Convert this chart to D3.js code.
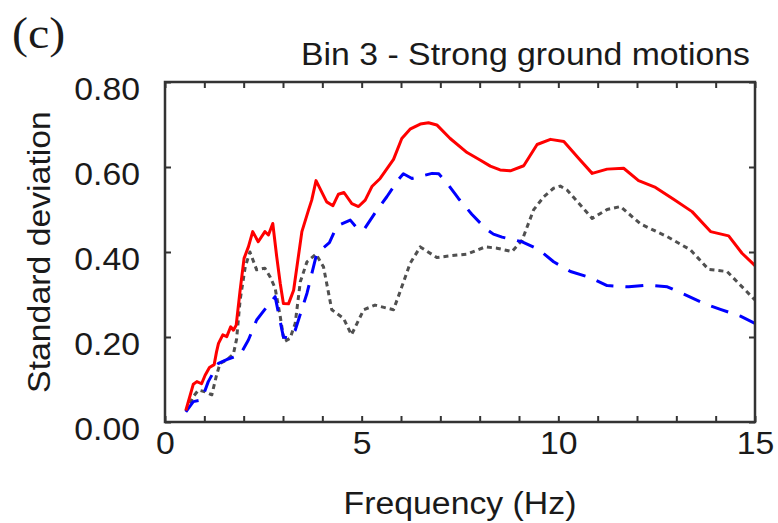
<!DOCTYPE html>
<html>
<head>
<meta charset="utf-8">
<script src="https://cdn.jsdelivr.net/npm/d3@7"></script>
<style>
  html, body { margin: 0; padding: 0; background: #fff; }
  svg { display: block; }
  text { font-family: "Liberation Sans", Arial, sans-serif; fill: #1a1a1a; }
</style>
</head>
<body>
<script>
// ---------------- data ----------------
const panelLabel = "(c)";
const titleText = "Bin 3 - Strong ground motions";
const xLabel = "Frequency (Hz)";
const yLabel = "Standard deviation";
const xTickLabels = [0, 5, 10, 15];
const yTickLabels = [0.0, 0.2, 0.4, 0.6, 0.8];

const freqRed = [0.53,0.72,0.81,0.93,1.02,1.13,1.25,1.31,1.36,1.47,1.57,1.67,1.74,1.81,1.91,2.01,2.12,2.23,2.37,2.54,2.63,2.74,2.84,2.93,3.01,3.14,3.27,3.48,3.65,3.73,3.84,4.11,4.27,4.41,4.55,4.75,4.92,5.09,5.26,5.47,5.81,6.02,6.23,6.49,6.70,6.91,7.25,7.68,8.02,8.27,8.52,8.78,9.12,9.46,9.80,10.14,10.52,10.86,11.24,11.66,12.04,12.47,12.93,13.40,13.87,14.33,14.67,15.0];
const sdRed   = [0.027,0.089,0.095,0.090,0.110,0.128,0.135,0.165,0.185,0.205,0.201,0.224,0.216,0.228,0.310,0.385,0.412,0.448,0.424,0.448,0.440,0.467,0.389,0.326,0.279,0.278,0.310,0.448,0.499,0.522,0.568,0.518,0.509,0.536,0.540,0.514,0.507,0.522,0.554,0.573,0.618,0.667,0.689,0.701,0.704,0.699,0.667,0.634,0.616,0.602,0.593,0.591,0.603,0.653,0.665,0.660,0.620,0.585,0.595,0.597,0.568,0.552,0.524,0.495,0.448,0.438,0.397,0.368];

const freqBlue = [0.53,0.72,0.93,1.10,1.36,1.57,1.91,2.12,2.33,2.59,2.80,3.01,3.18,3.31,3.61,3.86,4.18,4.37,4.71,4.92,5.06,5.34,5.64,5.94,6.06,6.28,6.79,6.96,7.17,7.46,7.80,8.14,8.35,8.57,9.08,9.50,9.88,10.31,10.81,11.24,11.79,12.26,12.77,13.19,13.70,14.12,14.63,15.0];
const sdBlue   = [0.024,0.048,0.052,0.095,0.138,0.147,0.158,0.193,0.240,0.271,0.295,0.200,0.197,0.216,0.303,0.397,0.422,0.461,0.475,0.452,0.453,0.492,0.530,0.571,0.584,0.573,0.585,0.584,0.562,0.526,0.489,0.456,0.442,0.435,0.424,0.406,0.377,0.354,0.340,0.321,0.318,0.322,0.318,0.301,0.279,0.265,0.249,0.232];

const freqGray = [0.53,0.72,0.85,1.02,1.19,1.31,1.40,1.57,1.74,1.82,1.91,2.04,2.16,2.33,2.54,2.67,2.80,2.93,3.03,3.18,3.31,3.44,3.61,3.84,4.03,4.24,4.54,4.74,5.05,5.34,5.81,6.02,6.23,6.49,6.91,7.25,7.68,8.14,8.44,8.82,9.08,9.37,9.63,9.88,10.05,10.22,10.86,11.24,11.58,12.09,12.77,13.36,13.82,14.29,15.0];
const sdGray   = [0.025,0.060,0.075,0.071,0.064,0.110,0.138,0.146,0.160,0.195,0.287,0.365,0.400,0.358,0.362,0.342,0.315,0.248,0.189,0.197,0.232,0.330,0.377,0.395,0.365,0.264,0.244,0.205,0.264,0.275,0.264,0.318,0.373,0.412,0.387,0.391,0.395,0.412,0.409,0.401,0.428,0.499,0.530,0.550,0.555,0.546,0.479,0.500,0.507,0.466,0.436,0.405,0.359,0.354,0.287];

const series = [
  { f: freqGray, v: sdGray, color: "#505050", dash: "5,4" },
  { f: freqBlue, v: sdBlue, color: "#0000ff", dash: "18,12" },
  { f: freqRed,  v: sdRed,  color: "#ff0000", dash: null }
];

// ---------------- layout ----------------
const W = 778, H = 523;
const m = { left: 165, right: 23, top: 82, bottom: 101 };
const iw = W - m.left - m.right, ih = H - m.top - m.bottom;
const STRETCH = 1.09;
const FS = 31;

const svg = d3.select("body").append("svg").attr("width", W).attr("height", H);
const g = svg.append("g").attr("transform", `translate(${m.left},${m.top})`);

const x = d3.scaleLinear().domain([0, 15]).range([0, iw]);
const y = d3.scaleLinear().domain([0, 0.8]).range([ih, 0]);

function stretch(sel) {
  sel.each(function () {
    const len = this.getComputedTextLength();
    d3.select(this).attr("textLength", len * STRETCH).attr("lengthAdjust", "spacingAndGlyphs");
  });
}

// clip
svg.append("defs").append("clipPath").attr("id", "clip")
  .append("rect").attr("width", iw).attr("height", ih);

// lines
const line = d3.line().x(d => x(d[0])).y(d => y(d[1]));
const lines = g.append("g").attr("clip-path", "url(#clip)");
series.forEach(s => {
  lines.append("path")
    .datum(s.f.map((f, i) => [f, s.v[i]]))
    .attr("d", line)
    .attr("fill", "none")
    .attr("stroke", s.color)
    .attr("stroke-width", 3)
    .attr("stroke-linejoin", "round")
    .attr("stroke-dasharray", s.dash);
});

// inward ticks on all four sides
const minorX = d3.range(0, 16, 1);
const tickLen = 6;
function styleAxis(a) {
  a.select(".domain").remove();
  a.selectAll("line").attr("stroke", "#333").attr("stroke-width", 2);
}
g.append("g").attr("transform", `translate(0,${ih})`)
  .call(d3.axisBottom(x).tickValues(minorX).tickSize(-tickLen).tickFormat("")).call(styleAxis);
g.append("g")
  .call(d3.axisTop(x).tickValues(minorX).tickSize(-tickLen).tickFormat("")).call(styleAxis);
g.append("g")
  .call(d3.axisLeft(y).tickValues(yTickLabels).tickSize(-tickLen).tickFormat("")).call(styleAxis);
g.append("g").attr("transform", `translate(${iw},0)`)
  .call(d3.axisRight(y).tickValues(yTickLabels).tickSize(-tickLen).tickFormat("")).call(styleAxis);

// frame
g.append("rect").attr("width", iw).attr("height", ih)
  .attr("fill", "none").attr("stroke", "#333").attr("stroke-width", 2.5);

// tick labels
const xl = g.append("g").attr("transform", `translate(0,${ih})`)
  .call(d3.axisBottom(x).tickValues(xTickLabels).tickSize(0).tickPadding(10).tickFormat(d3.format("d")));
xl.select(".domain").remove();
xl.selectAll("text").attr("font-size", FS).attr("font-family", null).call(stretch);

const yl = g.append("g")
  .call(d3.axisLeft(y).tickValues(yTickLabels).tickSize(0).tickPadding(25).tickFormat(d3.format(".2f")));
yl.select(".domain").remove();
yl.selectAll("text").attr("font-size", FS).attr("font-family", null).attr("dy", "0.55em").call(stretch);

// axis titles
svg.append("text").attr("x", m.left + iw / 2).attr("y", 514)
  .attr("text-anchor", "middle").attr("font-size", FS).text(xLabel).call(stretch);
svg.append("text").attr("transform", `translate(50,${m.top + ih / 2}) rotate(-90)`)
  .attr("text-anchor", "middle").attr("font-size", FS).text(yLabel).call(stretch);

// title
svg.append("text").attr("x", 750).attr("y", 65)
  .attr("text-anchor", "end").attr("font-size", FS).text(titleText).call(stretch);

// panel label
svg.append("text").attr("x", 12).attr("y", 48)
  .style("font-family", "'Liberation Serif', 'Times New Roman', serif")
  .attr("font-size", 44).text(panelLabel).call(stretch);
</script>
</body>
</html>
